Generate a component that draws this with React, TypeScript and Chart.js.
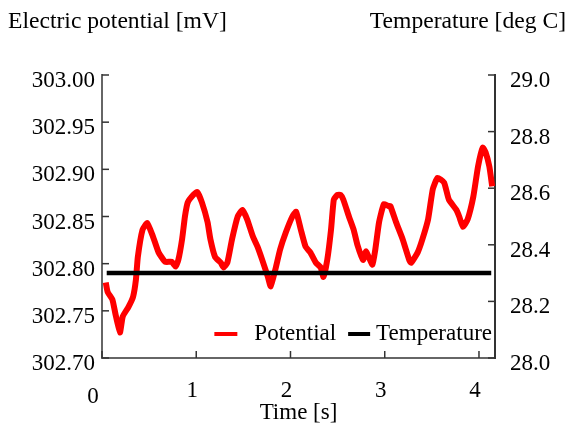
import React, { useEffect, useRef } from "react";
import { Chart, registerables } from "chart.js";

Chart.register(...registerables);

// ---- data ----
const timeValues = [
  0.04, 0.06, 0.11, 0.14, 0.19, 0.22, 0.28, 0.33, 0.36, 0.38, 0.43, 0.48, 0.54, 0.6, 0.67, 0.74, 0.78, 0.81,
  0.85, 0.88, 0.91, 0.97, 1.01, 1.06, 1.12, 1.15, 1.2, 1.26, 1.29, 1.33, 1.38, 1.44, 1.49, 1.54, 1.6, 1.65,
  1.7, 1.76, 1.79, 1.84, 1.89, 1.95, 2.02, 2.06, 2.11, 2.16, 2.21, 2.27, 2.32, 2.35, 2.39, 2.43, 2.46, 2.5,
  2.53, 2.56, 2.62, 2.67, 2.71, 2.77, 2.8, 2.83, 2.87, 2.9, 2.94, 2.99, 3.04, 3.06, 3.12, 3.19, 3.26, 3.28,
  3.35, 3.4, 3.46, 3.51, 3.56, 3.63, 3.68, 3.76, 3.79, 3.83, 3.88, 3.94, 3.99, 4.04, 4.07, 4.11, 4.14,
];
const potentialValues = [
  302.78, 302.77, 302.762, 302.748, 302.727, 302.744, 302.754, 302.765, 302.783, 302.807, 302.836, 302.843,
  302.829, 302.812, 302.802, 302.802, 302.797, 302.804, 302.826, 302.85, 302.865, 302.873, 302.876, 302.865,
  302.844, 302.826, 302.807, 302.801, 302.796, 302.801, 302.826, 302.85, 302.857, 302.847, 302.829, 302.818,
  302.804, 302.786, 302.776, 302.794, 302.815, 302.833, 302.85, 302.855, 302.836, 302.818, 302.812, 302.801,
  302.796, 302.786, 302.804, 302.836, 302.868, 302.873, 302.873, 302.868, 302.85, 302.836, 302.82, 302.804,
  302.813, 302.807, 302.799, 302.815, 302.844, 302.863, 302.861, 302.861, 302.844, 302.826, 302.804, 302.801,
  302.812, 302.826, 302.847, 302.879, 302.891, 302.886, 302.868, 302.857, 302.85, 302.839, 302.847, 302.871,
  302.903, 302.923, 302.918, 302.903, 302.882,
];
const temperatureTimes = [0.05, 4.13];
const temperatureValues = [28.3, 28.3];

const xTickValues = [0, 1, 2, 3, 4];
const seriesLabels = ["Potential", "Temperature"];
const leftTitle = "Electric potential [mV]";
const rightTitle = "Temperature [deg C]";
const xTitle = "Time [s]";

const FAMILY = "'Liberation Serif', 'Times New Roman', serif";
const FONT_SIZE = 23;
const TITLE_SIZE = 23.6;

const extrasPlugin = {
  id: "extras",
  afterDraw(chart: any) {
    const ctx = chart.ctx as CanvasRenderingContext2D;
    const ca = chart.chartArea;
    const xs = chart.scales.x;
    const ys = chart.scales.y;
    const y1 = chart.scales.y1;
    ctx.save();
    // inward ticks
    ctx.strokeStyle = "#333";
    ctx.lineWidth = 1.5;
    const line = (a: number, b: number, c: number, d: number) => {
      ctx.beginPath();
      ctx.moveTo(a, b);
      ctx.lineTo(c, d);
      ctx.stroke();
    };
    xs.ticks.forEach((t: any) => {
      const px = xs.getPixelForValue(t.value);
      line(px, ca.bottom, px, ca.bottom - 7);
    });
    ys.ticks.forEach((t: any) => {
      const py = ys.getPixelForValue(t.value);
      line(ca.left, py, ca.left + 7, py);
    });
    y1.ticks.forEach((t: any) => {
      const py = y1.getPixelForValue(t.value);
      line(ca.right, py, ca.right - 7, py);
    });

    // titles
    ctx.font = `${TITLE_SIZE}px ${FAMILY}`;
    ctx.fillStyle = "#000";
    ctx.textBaseline = "middle";
    ctx.textAlign = "left";
    ctx.fillText(leftTitle, 8, 22);
    ctx.textAlign = "right";
    ctx.fillText(rightTitle, 566, 22);
    ctx.font = `${FONT_SIZE}px ${FAMILY}`;
    ctx.textAlign = "center";
    ctx.fillText(xTitle, (ca.left + ca.right) / 2, ca.bottom + 55);
    ctx.fillText("0", xs.getPixelForValue(0) - 9, ca.bottom + 39);

    // legend
    const ds = chart.data.datasets;
    const w1 = ctx.measureText(ds[0].label).width;
    const w2 = ctx.measureText(ds[1].label).width;
    const ly = ca.bottom - 24;
    const t2Right = ca.right - 3;
    const t2Left = t2Right - w2;
    const l2End = t2Left - 6;
    const l2Start = l2End - 22;
    const t1Right = l2Start - 12;
    const t1Left = t1Right - w1;
    const l1End = t1Left - 17;
    const l1Start = l1End - 23;
    ctx.lineWidth = 4;
    ctx.strokeStyle = ds[0].borderColor;
    line(l1Start, ly, l1End, ly);
    ctx.strokeStyle = ds[1].borderColor;
    line(l2Start, ly, l2End, ly);
    ctx.textAlign = "left";
    ctx.fillText(ds[0].label, t1Left, ly);
    ctx.fillText(ds[1].label, t2Left, ly);
    ctx.restore();
  },
};

export default function App() {
  const ref = useRef<HTMLCanvasElement>(null);
  useEffect(() => {
    if (!ref.current) return;
    const tickFont = { family: FAMILY, size: FONT_SIZE };
    const chart = new Chart(ref.current, {
      type: "line",
      data: {
        datasets: [
          {
            label: seriesLabels[0],
            data: timeValues.map((t, i) => ({ x: t, y: potentialValues[i] })),
            borderColor: "rgb(255,0,0)",
            borderWidth: 6,
            pointRadius: 0,
            tension: 0.15,
            yAxisID: "y",
            order: 1,
          },
          {
            label: seriesLabels[1],
            data: temperatureTimes.map((t, i) => ({ x: t, y: temperatureValues[i] })),
            borderColor: "#000",
            borderWidth: 4.5,
            pointRadius: 0,
            yAxisID: "y1",
            order: 0,
          },
        ],
      },
      options: {
        animation: false,
        responsive: false,
        events: [],
        layout: { padding: { top: 75, left: 0, right: 0, bottom: 0 } },
        plugins: { legend: { display: false }, tooltip: { enabled: false } },
        scales: {
          x: {
            type: "linear",
            min: 0,
            max: 4.17,
            grid: { display: false, drawTicks: false },
            border: { display: true, color: "#666", width: 2 },
            afterBuildTicks: (s: any) => {
              s.ticks = xTickValues.map((v) => ({ value: v }));
            },
            ticks: {
              autoSkip: false,
              font: tickFont,
              color: "#000",
              padding: 19,
              labelOffset: -4,
              maxRotation: 0,
              callback: (v: any) => (Number(v) === 0 ? "" : String(v)),
            },
            afterFit: (s: any) => {
              s.height = 70;
            },
          },
          y: {
            type: "linear",
            position: "left",
            min: 302.7,
            max: 303.0,
            grid: { display: false, drawTicks: false },
            border: { display: true, color: "#666", width: 2 },
            ticks: {
              stepSize: 0.05,
              font: tickFont,
              color: "#000",
              padding: 7,
              labelOffset: 6,
              callback: (v: any) => Number(v).toFixed(2),
            },
            afterFit: (s: any) => {
              s.width = 102;
            },
          },
          y1: {
            type: "linear",
            position: "right",
            min: 28,
            max: 29,
            grid: { display: false, drawTicks: false },
            border: { display: true, color: "#333", width: 2 },
            ticks: {
              stepSize: 0.2,
              font: tickFont,
              color: "#000",
              padding: 15,
              labelOffset: 6,
              callback: (v: any) => Number(v).toFixed(1),
            },
            afterFit: (s: any) => {
              s.width = 79;
            },
          },
        },
      },
      plugins: [extrasPlugin],
    } as any);
    return () => chart.destroy();
  }, []);
  return (
    <div style={{ position: "fixed", left: 0, top: 0, width: 574, height: 428, background: "#fff" }}>
      <canvas ref={ref} width={574} height={428} style={{ display: "block" }} />
    </div>
  );
}
